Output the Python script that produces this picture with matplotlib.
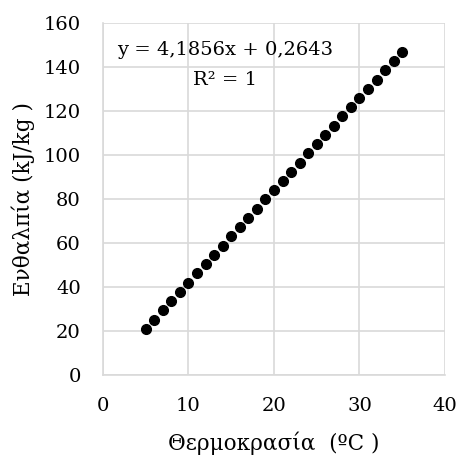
import matplotlib.pyplot as plt

# temperature (°C) and enthalpy (kJ/kg)
temperature = [5, 6, 7, 8, 9, 10, 11, 12, 13, 14, 15, 16, 17, 18, 19, 20,
               21, 22, 23, 24, 25, 26, 27, 28, 29, 30, 31, 32, 33, 34, 35]
enthalpy = [21.0, 25.2, 29.4, 33.6, 37.8, 42.0, 46.2, 50.4, 54.6, 58.8,
            63.0, 67.2, 71.4, 75.6, 79.8, 84.0, 88.1, 92.3, 96.5, 100.7,
            104.9, 109.1, 113.3, 117.5, 121.7, 125.8, 130.0, 134.2, 138.4,
            142.6, 146.7]
x_ticks = [0, 10, 20, 30, 40]
y_ticks = [0, 20, 40, 60, 80, 100, 120, 140, 160]

plt.rcParams['font.family'] = ['DejaVu Serif']

fig = plt.figure(figsize=(4.61, 4.59), dpi=100)
ax = fig.add_axes([0.2234, 0.183, 0.7419, 0.767])

ax.plot(temperature, enthalpy, 'o', color='black', markersize=7, zorder=3)

ax.set_xlim(0, 40)
ax.set_ylim(0, 160)
ax.set_xticks(x_ticks)
ax.set_yticks(y_ticks)
ax.grid(True, color='#d9d9d9', linewidth=1.2)
ax.set_axisbelow(True)
for side in ['top', 'right']:
    ax.spines[side].set_visible(False)
for side in ['left', 'bottom']:
    ax.spines[side].set_color('#d9d9d9')
    ax.spines[side].set_linewidth(1.2)
ax.tick_params(length=0, labelsize=14, pad=16)

ax.set_xlabel('Θερμοκρασία  (ºC )', fontsize=15.5, labelpad=12)
ax.set_ylabel('Ενθαλπία (kJ/kg )', fontsize=15.5, labelpad=6)

ax.text(14.3, 147.7, 'y = 4,1856x + 0,2643', fontsize=14, ha='center', va='center')
ax.text(14.3, 134, 'R² = 1', fontsize=14, ha='center', va='center')

fig.savefig('out.png', dpi=100)
